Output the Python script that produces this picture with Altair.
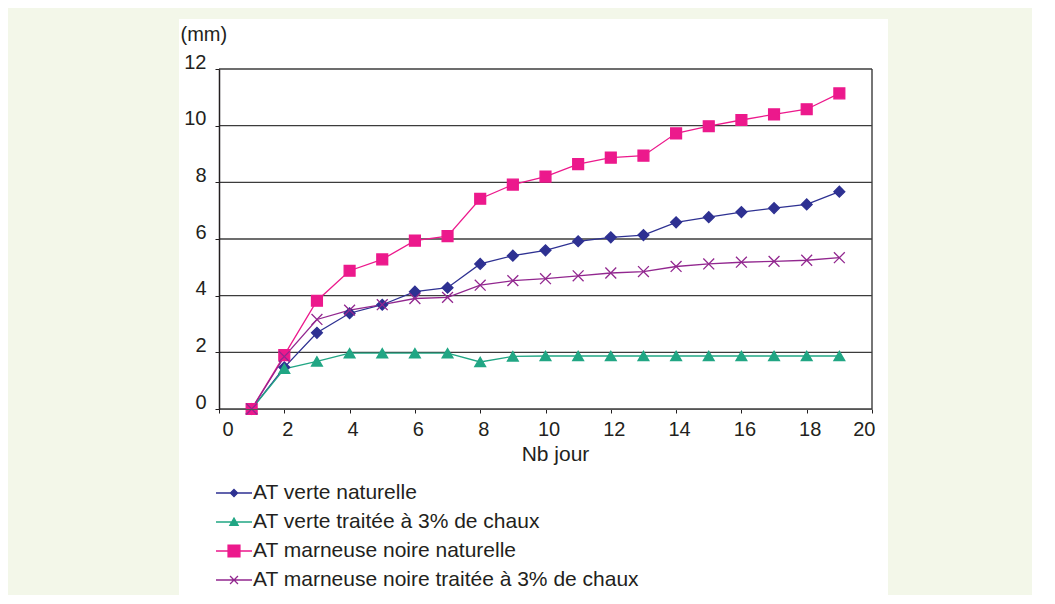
import altair as alt
import pandas as pd

# ---- data ----
days = list(range(1, 20))
series_names = [
    "AT verte naturelle",
    "AT verte traitée à 3% de chaux",
    "AT marneuse noire naturelle",
    "AT marneuse noire traitée à 3% de chaux",
]
verte_naturelle = [0, 1.47, 2.69, 3.38, 3.68, 4.14, 4.28, 5.12, 5.41, 5.60,
                   5.92, 6.06, 6.14, 6.59, 6.77, 6.95, 7.09, 7.22, 7.67]
verte_chaux = [0, 1.42, 1.68, 1.97, 1.97, 1.97, 1.97, 1.66, 1.86, 1.87,
               1.87, 1.87, 1.87, 1.87, 1.87, 1.87, 1.87, 1.87, 1.87]
marneuse_naturelle = [0, 1.90, 3.82, 4.88, 5.28, 5.94, 6.10, 7.42, 7.92, 8.20,
                      8.64, 8.87, 8.94, 9.73, 9.98, 10.20, 10.40, 10.58, 11.14]
marneuse_chaux = [0, 1.85, 3.16, 3.49, 3.68, 3.90, 3.94, 4.37, 4.53, 4.60,
                  4.70, 4.80, 4.85, 5.03, 5.12, 5.18, 5.21, 5.25, 5.34]
x_ticks = list(range(0, 21, 2))
y_ticks = list(range(0, 13, 2))

# ---- styles ----
colors = ["#2e3192", "#21a684", "#ec198c", "#92278f"]
marker_shapes = ["diamond", "triangle-up", "square", "M-1,-1L1,1M-1,1L1,-1"]
legend_shapes = [
    "M-1,0H1M0,-0.2L0.2,0L0,0.2L-0.2,0Z",
    "M-1,0H1M-0.23,0.18L0.23,0.18L0,-0.22Z",
    "M-1,0H1M-0.33,-0.33H0.33V0.33H-0.33Z",
    "M-1,0H1M-0.22,-0.22L0.22,0.22M-0.22,0.22L0.22,-0.22",
]
FONT = "Liberation Sans"
TXT = "#231f20"
GRID = "#3c3c3c"
BG = "#f3f7e9"

rows = []
for name, vals in zip(series_names, [verte_naturelle, verte_chaux, marneuse_naturelle, marneuse_chaux]):
    for d, v in zip(days, vals):
        rows.append({"jour": d, "mm": v, "serie": name})
df = pd.DataFrame(rows)

xscale = alt.Scale(domain=[0, 20], nice=False, zero=False)
yscale = alt.Scale(domain=[0, 12], nice=False)
cscale = alt.Scale(domain=series_names, range=colors)

x_axis = alt.Axis(values=x_ticks, title="Nb jour", grid=False, tickSize=4, tickColor=TXT,
                  domainColor="#555555", labelPadding=6, labelOffset=3, labelFont=FONT,
                  labelFontSize=20, labelColor=TXT, titleFont=FONT, titleFontSize=21,
                  titleFontWeight="normal", titleColor=TXT, titleX=336, titleY=45,
                  titleAlign="center", titleBaseline="middle", zindex=1, format="d")
y_axis = alt.Axis(values=y_ticks, title="(mm)", grid=False, tickSize=4, tickColor=TXT,
                  domainColor=TXT, domainWidth=1.5, labelPadding=9, labelOffset=-7,
                  labelFont=FONT, labelFontSize=20, labelColor=TXT, titleFont=FONT,
                  titleFontSize=20, titleFontWeight="normal", titleColor=TXT, titleAngle=0,
                  titleAlign="left", titleBaseline="middle", titleX=-39, titleY=-35,
                  zindex=1, format="d")

panel = alt.Chart(pd.DataFrame({"a": [0]})).mark_rect(color="white").encode(
    x=alt.value(-40), x2=alt.value(669), y=alt.value(-50), y2=alt.value(526)
)

grid = alt.Chart(pd.DataFrame({"v": y_ticks})).mark_rule(color=GRID, strokeWidth=1.4).encode(
    y=alt.Y("v:Q", scale=yscale, axis=y_axis)
)
right_border = alt.Chart(pd.DataFrame({"x": [20]})).mark_rule(color=GRID, strokeWidth=1.4).encode(
    x=alt.X("x:Q", scale=xscale, axis=x_axis)
)

lines = alt.Chart(df).mark_line(strokeWidth=1.3).encode(
    x=alt.X("jour:Q", scale=xscale, axis=x_axis),
    y=alt.Y("mm:Q", scale=yscale, axis=y_axis),
    color=alt.Color("serie:N", scale=cscale, legend=None),
)

points = alt.Chart(df).mark_point(filled=True, size=118, strokeWidth=1.3, opacity=1).encode(
    x=alt.X("jour:Q", scale=xscale, axis=x_axis),
    y=alt.Y("mm:Q", scale=yscale, axis=y_axis),
    color=alt.Color("serie:N", scale=cscale, legend=None),
    stroke=alt.Stroke("serie:N", scale=cscale, legend=None),
    shape=alt.Shape("serie:N", scale=alt.Scale(domain=series_names, range=marker_shapes), legend=None),
)

leg = dict(orient="none", legendX=-4, legendY=405, title=None, symbolSize=1296,
           symbolStrokeWidth=1.3, labelFont=FONT, labelFontSize=21, labelColor=TXT,
           labelOffset=0, labelLimit=700, rowPadding=-7, padding=0)

legend_layer = alt.Chart(df).transform_filter("false").mark_point(
    filled=True, strokeWidth=1.3, opacity=1
).encode(
    color=alt.Color("serie:N", scale=cscale, legend=alt.Legend(**leg)),
    stroke=alt.Stroke("serie:N", scale=cscale, legend=alt.Legend(**leg)),
    shape=alt.Shape("serie:N", scale=alt.Scale(domain=series_names, range=legend_shapes),
                    legend=alt.Legend(**leg)),
)

chart = alt.layer(panel, grid, right_border, lines, points, legend_layer).resolve_scale(
    color="independent", stroke="independent", shape="independent"
).properties(
    width=653, height=340,
    padding={"left": 211, "top": 61, "right": 160, "bottom": 186},
    autosize=alt.AutoSizeParams(type="none"),
    background=BG,
).configure_view(stroke=None)

chart.save("out.html", embed_options={"renderer": "svg", "actions": False})
